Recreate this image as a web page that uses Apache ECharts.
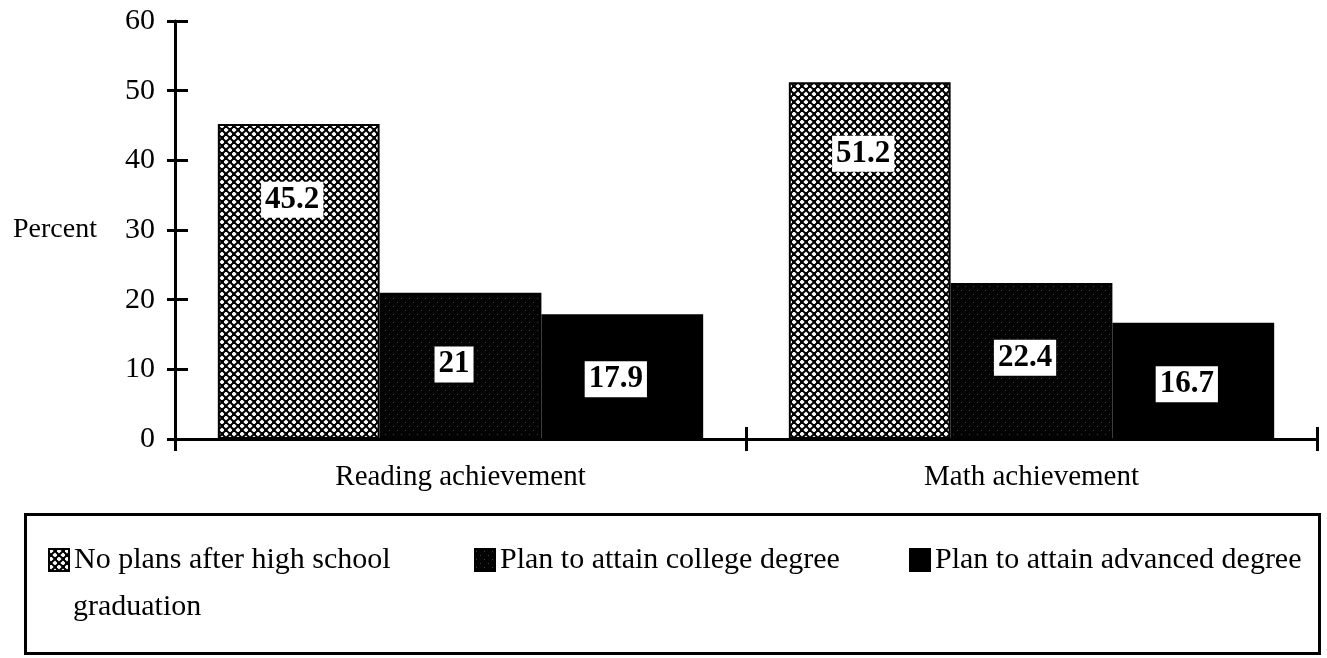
<!DOCTYPE html>
<html>
<head>
<meta charset="utf-8">
<script src="https://cdn.jsdelivr.net/npm/echarts@6/dist/echarts.min.js"></script>
<style>
html,body{margin:0;padding:0;background:#fff;}
#chart{width:1327px;height:658px;}
</style>
</head>
<body>
<div id="chart"></div>
<script>
// ---- data ----
const categories = ['Reading achievement', 'Math achievement'];
const seriesNames = ['No plans after high school graduation', 'Plan to attain college degree', 'Plan to attain advanced degree'];
const noPlans = [45.2, 51.2];
const collegeDegree = [21, 22.4];
const advancedDegree = [17.9, 16.7];
const yMin = 0, yMax = 60, yInterval = 10;
const yAxisTitle = 'Percent';

// ---- styles ----
const FONT = '"Liberation Serif", "DejaVu Serif", serif';
// placement of value labels inside each bar (fraction of bar width / from bar top)
const labelPlace = [
  [['46%', '24%'], ['46%', '20%']],
  [['46%', '49%'], ['46%', '48%']],
  [['46%', '52%'], ['46%', '53%']]
];

function diamond(g, cx, cy, r) {
  g.beginPath();
  g.moveTo(cx, cy - r); g.lineTo(cx + r, cy); g.lineTo(cx, cy + r); g.lineTo(cx - r, cy);
  g.closePath(); g.fill();
}
function crossPattern() {
  const c = document.createElement('canvas'); c.width = 8; c.height = 8;
  const g = c.getContext('2d');
  g.fillStyle = '#000'; g.fillRect(0, 0, 8, 8);
  g.fillStyle = '#fff';
  diamond(g, 2, 2, 2.6); diamond(g, 6, 6, 2.6);
  return c;
}
function stipplePattern() {
  const c = document.createElement('canvas'); c.width = 8; c.height = 8;
  const g = c.getContext('2d');
  g.fillStyle = '#030303'; g.fillRect(0, 0, 8, 8);
  g.fillStyle = '#3c3c3c';
  g.fillRect(1, 2, 1, 1); g.fillRect(5, 6, 1, 1);
  return c;
}

const fills = [
  { image: crossPattern(), repeat: 'repeat' },
  { image: stipplePattern(), repeat: 'repeat' },
  '#000'
];
const seriesData = [noPlans, collegeDegree, advancedDegree];

const series = seriesNames.map((name, si) => ({
  name: name,
  type: 'bar',
  xAxisIndex: 0,
  yAxisIndex: 0,
  barGap: '0%',
  barCategoryGap: '15%',
  itemStyle: { color: fills[si], borderColor: '#000', borderWidth: 2 },
  data: seriesData[si].map((v, i) => ({
    value: v,
    label: { position: labelPlace[si][i] }
  })),
  label: {
    show: true,
    align: 'center',
    verticalAlign: 'middle',
    fontFamily: FONT,
    fontWeight: 'bold',
    fontSize: 31,
    lineHeight: 32,
    color: '#000',
    backgroundColor: '#fff',
    padding: [3, 4, 1, 4]
  }
}));

const axisLine = { show: true, lineStyle: { color: '#000', width: 3 } };

const legendCommon = {
  top: 545,
  padding: 0,
  itemWidth: 20,
  itemHeight: 22,
  icon: 'rect',
  selectedMode: false,
  textStyle: { fontFamily: FONT, fontSize: 30, color: '#000' }
};

const option = {
  animation: false,
  backgroundColor: '#fff',
  grid: { left: 175, right: 10, top: 21, bottom: 219, containLabel: false, outerBoundsMode: 'none' },
  xAxis: [
    {
      type: 'category', data: categories, position: 'bottom',
      axisLine: axisLine,
      axisTick: { show: true, length: 12, lineStyle: { color: '#000', width: 3 } },
      axisLabel: { fontFamily: FONT, fontSize: 29, color: '#000', margin: 24 }
    },
    {
      type: 'category', data: categories, position: 'bottom', gridIndex: 0,
      axisLine: { show: false },
      axisTick: { show: true, inside: true, length: 12, lineStyle: { color: '#000', width: 3 } },
      axisLabel: { show: false }
    }
  ],
  yAxis: [
    {
      type: 'value', min: yMin, max: yMax, interval: yInterval, position: 'left',
      name: yAxisTitle, nameLocation: 'middle', nameRotate: 0, nameGap: 78,
      nameTextStyle: { fontFamily: FONT, fontSize: 28, color: '#000', align: 'right', verticalAlign: 'middle' },
      axisLine: axisLine,
      axisTick: { show: true, length: 8, lineStyle: { color: '#000', width: 3 } },
      axisLabel: { fontFamily: FONT, fontSize: 30, color: '#000', margin: 20 },
      splitLine: { show: false }
    },
    {
      type: 'value', min: yMin, max: yMax, interval: yInterval, position: 'left', offset: 0,
      axisLine: { show: false },
      axisTick: { show: true, inside: true, length: 13, lineStyle: { color: '#000', width: 3 } },
      axisLabel: { show: false },
      splitLine: { show: false }
    }
  ],
  legend: [
    Object.assign({}, legendCommon, {
      left: 48, data: [seriesNames[0]],
      formatter: () => 'No plans after high school'
    }),
    Object.assign({}, legendCommon, { left: 474, data: [seriesNames[1]] }),
    Object.assign({}, legendCommon, { left: 909, data: [seriesNames[2]] })
  ],
  graphic: [
    {
      type: 'rect', left: 23, top: 512, silent: true,
      shape: { width: 1294, height: 139 },
      style: { fill: 'none', stroke: '#000', lineWidth: 3 }
    },
    {
      type: 'text', left: 73, top: 592, silent: true,
      style: { text: 'graduation', font: '30px ' + FONT, fill: '#000' }
    }
  ],
  series: series
};

const chart = echarts.init(document.getElementById('chart'), null, { renderer: 'canvas' });
chart.setOption(option);
</script>
</body>
</html>
